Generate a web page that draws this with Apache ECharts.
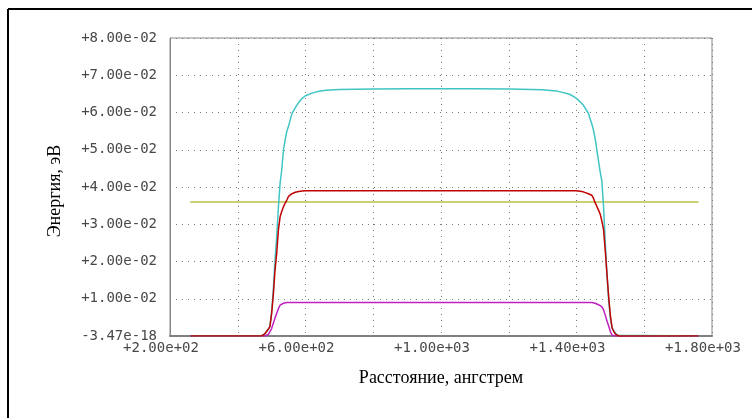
<!DOCTYPE html>
<html>
<head>
<meta charset="utf-8">
<script src="https://cdn.jsdelivr.net/npm/echarts@6/dist/echarts.min.js"></script>
<style>
html,body{margin:0;padding:0;background:#fff;}
#chart{width:752px;height:418px;}
</style>
</head>
<body>
<div id="chart"></div>
<script>
// Distance, angstrom
const distance = [260, 470, 475, 480, 485, 490, 495, 500, 505, 510, 515, 520, 525, 530, 535, 540, 545, 550, 560, 570, 580, 590, 600, 620, 640, 660, 700, 800, 900, 1000, 1100, 1200, 1300, 1340, 1380, 1400, 1420, 1435, 1445, 1450, 1455, 1460, 1465, 1470, 1475, 1480, 1485, 1490, 1495, 1500, 1505, 1510, 1515, 1520, 1525, 1760];
// Energy, eV
const cyanValues = [0, 0, 0, 0.0006, 0.0012, 0.0018, 0.0026, 0.0065, 0.0125, 0.0204, 0.0267, 0.0345, 0.0410, 0.0447, 0.0500, 0.0527, 0.0550, 0.0564, 0.0597, 0.0613, 0.0627, 0.0638, 0.0645, 0.0652, 0.0657, 0.0660, 0.0662, 0.0663, 0.0664, 0.0664, 0.0664, 0.0663, 0.0661, 0.0658, 0.0649, 0.0638, 0.0620, 0.0598, 0.0570, 0.0553, 0.0530, 0.0500, 0.0470, 0.0440, 0.0415, 0.0345, 0.0250, 0.0165, 0.0095, 0.0047, 0.0022, 0.0014, 0.0008, 0.0002, 0, 0];
const redValues = [0, 0, 0, 0.0006, 0.0012, 0.0018, 0.0025, 0.0060, 0.0110, 0.0177, 0.0222, 0.0285, 0.0320, 0.0335, 0.0347, 0.0357, 0.0365, 0.0375, 0.0382, 0.0386, 0.0388, 0.0389, 0.0390, 0.0390, 0.0390, 0.0390, 0.0390, 0.0390, 0.0390, 0.0390, 0.0390, 0.0390, 0.0390, 0.0390, 0.0390, 0.0390, 0.0387, 0.0382, 0.0378, 0.0370, 0.0358, 0.0348, 0.0338, 0.0327, 0.0308, 0.0285, 0.0228, 0.0165, 0.0105, 0.0055, 0.0022, 0.0012, 0.0005, 0.0001, 0, 0];
const magentaValues = [0, 0, 0, 0, 0.0002, 0.0004, 0.0007, 0.0020, 0.0034, 0.0048, 0.0061, 0.0073, 0.0083, 0.0086, 0.0088, 0.0089, 0.0090, 0.0090, 0.0090, 0.0090, 0.0090, 0.0090, 0.0090, 0.0090, 0.0090, 0.0090, 0.0090, 0.0090, 0.0090, 0.0090, 0.0090, 0.0090, 0.0090, 0.0090, 0.0090, 0.0090, 0.0090, 0.0090, 0.0090, 0.0089, 0.0088, 0.0086, 0.0084, 0.0082, 0.0078, 0.0070, 0.0056, 0.0040, 0.0027, 0.0012, 0.0002, 0, 0, 0, 0, 0];
const oliveDistance = [260, 1760];
const oliveValues = [0.0360, 0.0360];

const xTicks = [200, 600, 1000, 1400, 1800];
const zeroLabel = '-3.47e-18';

function sci(v) {
  let s = Math.abs(v).toExponential(2);
  let parts = s.split('e');
  let exp = parseInt(parts[1], 10);
  let es = (exp < 0 ? '-' : '+') + String(Math.abs(exp)).padStart(2, '0');
  return (v < 0 ? '-' : '+') + parts[0] + 'e' + es;
}
function pairs(xs, ys) { return xs.map((x, i) => [x, ys[i]]); }

const chart = echarts.init(document.getElementById('chart'), null, {renderer: 'canvas'});
const mono = 'DejaVu Sans Mono';
const serif = 'Liberation Serif';
const gridLine = {show: true, lineStyle: {color: '#7a7a7a', type: [1, 5], width: 1}};

chart.setOption({
  animation: false,
  backgroundColor: '#fff',
  grid: {left: 170, top: 38, right: 40, bottom: 82, show: true, borderColor: '#888', borderWidth: 1, containLabel: false},
  xAxis: {
    type: 'value', min: 200, max: 1800, interval: 200,
    name: 'Расстояние, ангстрем', nameLocation: 'middle', nameGap: 33,
    nameTextStyle: {fontFamily: serif, fontSize: 18, color: '#000'},
    axisLine: {show: true, lineStyle: {color: '#808080', width: 2}},
    axisTick: {show: false},
    splitLine: gridLine,
    axisLabel: {
      fontFamily: mono, fontSize: 14, color: '#484848', margin: 5, padding: [0, 18, 0, 0],
      formatter: v => xTicks.indexOf(v) >= 0 ? sci(v) : ''
    }
  },
  yAxis: {
    type: 'value', min: 0, max: 0.08, interval: 0.01,
    name: 'Энергия, эВ', nameLocation: 'middle', nameGap: 106, nameRotate: 90,
    nameTextStyle: {fontFamily: serif, fontSize: 18, color: '#000', padding: [0, 8, 0, 0]},
    axisLine: {show: true, lineStyle: {color: '#888', width: 1}},
    axisTick: {show: false},
    splitLine: gridLine,
    axisLabel: {
      fontFamily: mono, fontSize: 14, color: '#484848', margin: 13,
      formatter: v => Math.abs(v) < 1e-12 ? zeroLabel : sci(v)
    }
  },
  graphic: [
    {type: 'line', shape: {x1: 8, y1: 9, x2: 752, y2: 9}, style: {stroke: '#000', lineWidth: 2}},
    {type: 'line', shape: {x1: 8, y1: 9, x2: 8, y2: 418}, style: {stroke: '#000', lineWidth: 2}}
  ],
  series: [
    {type: 'line', data: pairs(oliveDistance, oliveValues), showSymbol: false, lineStyle: {color: '#bcbc44', width: 1.5}},
    {type: 'line', data: pairs(distance, magentaValues), showSymbol: false, lineStyle: {color: '#c020c0', width: 1.5}},
    {type: 'line', data: pairs(distance, cyanValues), showSymbol: false, lineStyle: {color: '#40c4c4', width: 1.5}},
    {type: 'line', data: pairs(distance, redValues), showSymbol: false, lineStyle: {color: '#c00000', width: 1.5}}
  ]
});
</script>
</body>
</html>
